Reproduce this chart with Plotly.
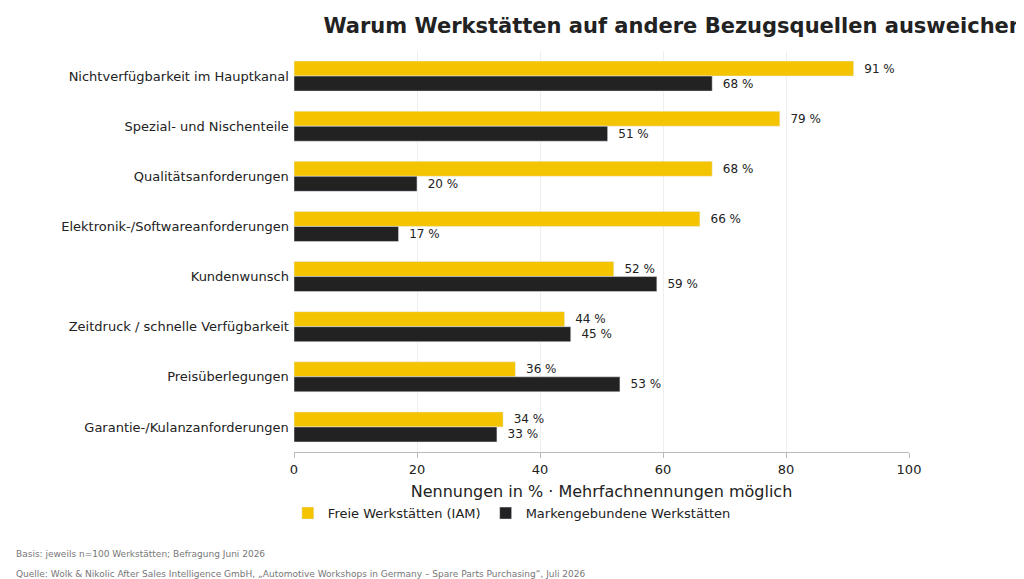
import plotly.graph_objects as go

categories = ["Nichtverfügbarkeit im Hauptkanal", "Spezial- und Nischenteile", "Qualitätsanforderungen",
              "Elektronik-/Softwareanforderungen", "Kundenwunsch", "Zeitdruck / schnelle Verfügbarkeit",
              "Preisüberlegungen", "Garantie-/Kulanzanforderungen"]
iam = [91, 79, 68, 66, 52, 44, 36, 34]
marke = [68, 51, 20, 17, 59, 45, 53, 33]

fig = go.Figure()
fig.add_trace(go.Bar(y=categories, x=iam, orientation="h", name="Freie Werkstätten (IAM)",
                     marker_color="#F5C400", text=[f"  {v} %" for v in iam], textposition="outside",
                     textfont=dict(size=12, color="#222"), cliponaxis=False))
fig.add_trace(go.Bar(y=categories, x=marke, orientation="h", name="Markengebundene Werkstätten",
                     marker_color="#222222", text=[f"  {v} %" for v in marke], textposition="outside",
                     textfont=dict(size=12, color="#222"), cliponaxis=False))

fig.update_layout(
    width=1024, height=579, barmode="group", bargap=0.4, bargroupgap=0,
    font=dict(family="DejaVu Sans", size=13, color="#222"),
    plot_bgcolor="white", paper_bgcolor="white",
    margin=dict(l=286, r=123, t=43, b=135),
    title=dict(text="<b>Warum Werkstätten auf andere Bezugsquellen ausweichen</b>",
               x=0.992, xanchor="right", y=0.97, yanchor="middle", font=dict(size=21, color="#222")),
    xaxis=dict(range=[0, 100], dtick=20, showgrid=True, gridcolor="#eeeeee", zeroline=False,
               showline=True, linecolor="#bbbbbb", ticks="outside", tickcolor="#bbbbbb",
               title=dict(text="Nennungen in % · Mehrfachnennungen möglich", standoff=10)),
    yaxis=dict(autorange="reversed", showgrid=False, ticks="", ticksuffix=" "),
    legend=dict(orientation="h", x=-0.01, y=-0.115, xanchor="left", yanchor="top",
                font=dict(size=13), traceorder="normal"),
    annotations=[
        dict(text="Basis: jeweils n=100 Werkstätten; Befragung Juni 2026", xref="paper", yref="paper",
             x=-280/615, y=-0.255, xanchor="left", yanchor="middle", showarrow=False,
             font=dict(size=9, color="#777")),
        dict(text="Quelle: Wolk & Nikolic After Sales Intelligence GmbH, „Automotive Workshops in Germany – Spare Parts Purchasing“, Juli 2026",
             xref="paper", yref="paper", x=-280/615, y=-0.305, xanchor="left", yanchor="middle",
             showarrow=False, font=dict(size=9, color="#777")),
    ],
)
fig.write_html("out.html")
